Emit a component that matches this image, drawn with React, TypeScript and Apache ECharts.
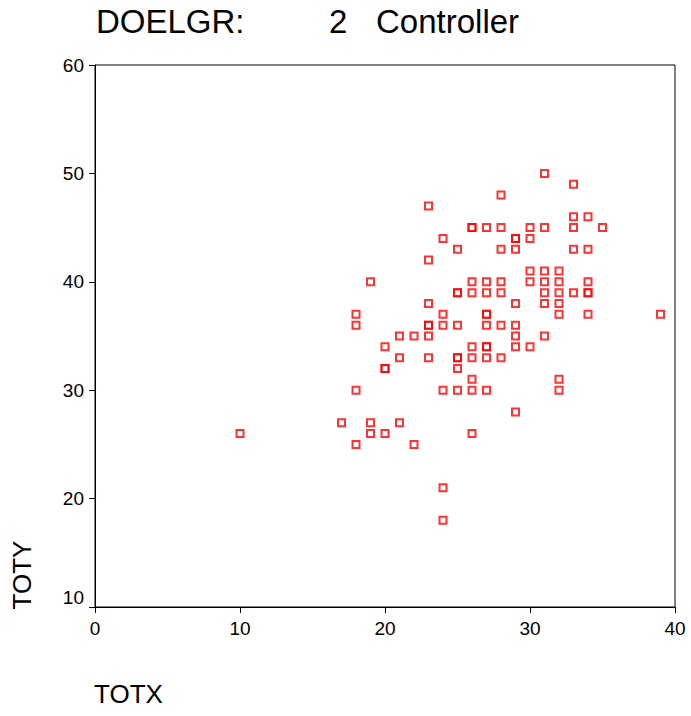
import React, { useEffect, useRef } from "react";
import * as echarts from "echarts";

const totx = [
  10,
  17,
  18, 18, 18, 18,
  19, 19, 19,
  20, 20, 20, 20,
  21, 21, 21,
  22, 22,
  23, 23, 23, 23, 23, 23, 23,
  24, 24, 24, 24, 24, 24,
  25, 25, 25, 25, 25, 25, 25, 25,
  26, 26, 26, 26, 26, 26, 26, 26, 26,
  27, 27, 27, 27, 27, 27, 27, 27, 27, 27,
  28, 28, 28, 28, 28, 28, 28,
  29, 29, 29, 29, 29, 29, 29, 29,
  30, 30, 30, 30, 30,
  31, 31, 31, 31, 31, 31, 31,
  32, 32, 32, 32, 32, 32, 32,
  33, 33, 33, 33, 33,
  34, 34, 34, 34, 34, 34,
  35,
  39,
];
const toty = [
  26,
  27,
  37, 36, 30, 25,
  40, 27, 26,
  34, 32, 32, 26,
  35, 33, 27,
  35, 25,
  47, 42, 38, 36, 36, 35, 33,
  44, 37, 36, 30, 21, 18,
  43, 39, 39, 36, 33, 33, 32, 30,
  45, 45, 40, 39, 34, 33, 31, 30, 26,
  45, 40, 39, 37, 37, 36, 34, 34, 33, 30,
  48, 45, 43, 40, 39, 36, 33,
  44, 44, 43, 38, 36, 35, 34, 28,
  45, 44, 41, 40, 34,
  50, 45, 41, 40, 39, 38, 35,
  41, 40, 39, 38, 37, 31, 30,
  49, 46, 45, 43, 39,
  46, 43, 40, 39, 39, 37,
  45,
  37,
];

const titleLabel = "DOELGR:";
const titleValue = "2";
const titleGroup = "Controller";
const xName = "TOTX";
const yName = "TOTY";

export default function App() {
  const ref = useRef<HTMLDivElement>(null);
  useEffect(() => {
    if (!ref.current) return;
    const chart = echarts.init(ref.current, undefined, { renderer: "svg" });
    const font = "'Liberation Sans', Arial, sans-serif";
    const data = totx.map((x, i) => [x, toty[i]]);
    chart.setOption({
      animation: false,
      backgroundColor: "#fff",
      grid: {
        left: 95,
        right: 16,
        top: 65,
        bottom: 109,
        show: true,
        borderColor: "#000",
        borderWidth: 1,
        backgroundColor: "transparent",
      },
      xAxis: {
        type: "value",
        min: 0,
        max: 40,
        interval: 10,
        axisLine: { show: true, onZero: false, lineStyle: { color: "#000", width: 1 } },
        axisTick: { show: true, length: 6, lineStyle: { color: "#000" } },
        axisLabel: { color: "#000", fontSize: 19, fontFamily: font, margin: 12 },
        splitLine: { show: false },
      },
      yAxis: {
        type: "value",
        min: 10,
        max: 60,
        interval: 10,
        axisLine: { show: true, onZero: false, lineStyle: { color: "#000", width: 1 } },
        axisTick: { show: true, length: 6, lineStyle: { color: "#000" } },
        axisLabel: {
          color: "#000",
          fontSize: 19,
          fontFamily: font,
          margin: 11,
          formatter: (v: number) => (v === 10 ? "{lo|" + v + "}" : String(v)),
          rich: {
            lo: { fontSize: 19, fontFamily: font, color: "#000", padding: [0, 0, 20, 0] },
          },
        },
        splitLine: { show: false },
      },
      series: [
        {
          type: "scatter",
          data,
          symbol: "rect",
          symbolSize: 7,
          itemStyle: { color: "transparent", borderColor: "#ff0000", borderWidth: 2 },
        },
      ],
      graphic: [
        {
          type: "text",
          left: 96,
          top: 5,
          style: { text: titleLabel, fontSize: 33, fontFamily: font, fill: "#000" },
        },
        {
          type: "text",
          left: 329,
          top: 5,
          style: { text: titleValue, fontSize: 33, fontFamily: font, fill: "#000" },
        },
        {
          type: "text",
          left: 376,
          top: 5,
          style: { text: titleGroup, fontSize: 33, fontFamily: font, fill: "#000" },
        },
        {
          type: "text",
          left: 94,
          top: 681,
          style: { text: xName, fontSize: 26, fontFamily: font, fill: "#000" },
        },
        {
          type: "text",
          x: 22,
          y: 575,
          rotation: Math.PI / 2,
          style: {
            text: yName,
            fontSize: 26,
            fontFamily: font,
            fill: "#000",
            align: "center",
            verticalAlign: "middle",
          },
        },
      ],
    });
    return () => chart.dispose();
  }, []);
  return (
    <div
      ref={ref}
      style={{ position: "absolute", left: 0, top: 0, width: 691, height: 716 }}
    />
  );
}
